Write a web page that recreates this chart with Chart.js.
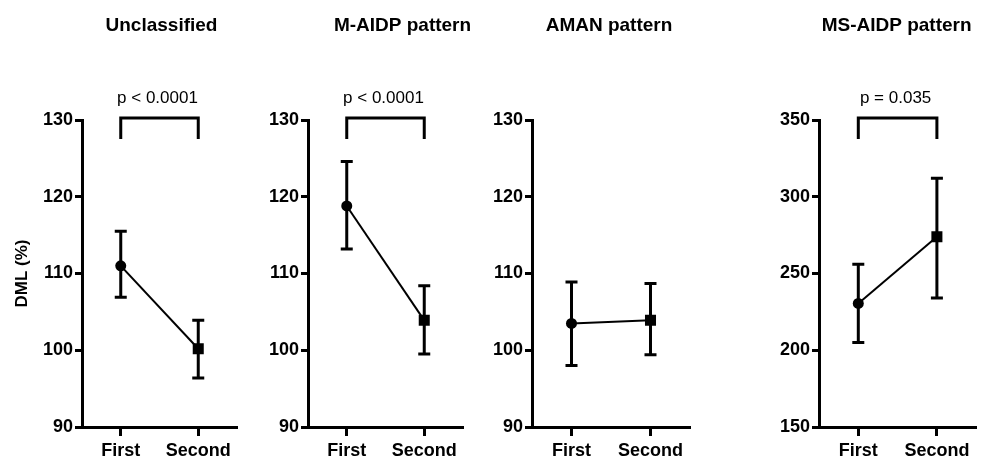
<!DOCTYPE html>
<html>
<head>
<meta charset="utf-8">
<script src="https://cdn.jsdelivr.net/npm/chart.js@4"></script>
<style>
  html, body { margin: 0; padding: 0; background: #fff; }
  body { position: relative; width: 984px; height: 461px; overflow: hidden; }
  canvas { position: absolute; top: 0; }
</style>
</head>
<body>
<canvas id="p1" width="260" height="461" style="left:0px"></canvas>
<canvas id="p2" width="260" height="461" style="left:240px"></canvas>
<canvas id="p3" width="250" height="461" style="left:464px"></canvas>
<canvas id="p4" width="233" height="461" style="left:751px"></canvas>
<script>
const groups = ['First', 'Second'];

const unclassifiedMean = [111.0, 100.2];
const unclassifiedUpper = [115.5, 103.9];
const unclassifiedLower = [106.9, 96.4];

const mAidpMean = [118.8, 103.9];
const mAidpUpper = [124.6, 108.4];
const mAidpLower = [113.2, 99.5];

const amanMean = [103.5, 103.9];
const amanUpper = [108.9, 108.7];
const amanLower = [98.0, 99.4];

const msAidpMean = [230.5, 274.0];
const msAidpUpper = [256.0, 312.0];
const msAidpLower = [205.0, 234.0];

const dmlTicks = [90, 100, 110, 120, 130];
const msTicks = [150, 200, 250, 300, 350];

const FONT = "'Liberation Sans', Arial, sans-serif";

// error bars, panel titles and the p-value brackets
const extras = {
  id: 'extras',
  beforeDatasetsDraw(chart) {
    const ctx = chart.ctx;
    const ds = chart.data.datasets[0];
    const meta = chart.getDatasetMeta(0);
    const y = chart.scales.y;
    ctx.save();
    ctx.strokeStyle = '#000';
    ctx.lineWidth = 3;
    meta.data.forEach((pt, i) => {
      const hi = y.getPixelForValue(ds.upper[i]);
      const lo = y.getPixelForValue(ds.lower[i]);
      ctx.beginPath();
      ctx.moveTo(pt.x, hi);
      ctx.lineTo(pt.x, lo);
      ctx.moveTo(pt.x - 6, hi);
      ctx.lineTo(pt.x + 6, hi);
      ctx.moveTo(pt.x - 6, lo);
      ctx.lineTo(pt.x + 6, lo);
      ctx.stroke();
    });
    ctx.restore();
  },
  afterDraw(chart, args, opts) {
    const ctx = chart.ctx;
    const area = chart.chartArea;
    ctx.save();
    ctx.fillStyle = '#000';
    ctx.font = 'bold 19px ' + FONT;
    ctx.textAlign = 'center';
    ctx.textBaseline = 'alphabetic';
    ctx.fillText(opts.title, (area.left + area.right) / 2 + (opts.shift || 0), 31);

    if (opts.p) {
      const x = chart.scales.x;
      const x1 = x.getPixelForValue(0);
      const x2 = x.getPixelForValue(1);
      const top = area.top - 2;
      ctx.strokeStyle = '#000';
      ctx.lineWidth = 3;
      ctx.beginPath();
      ctx.moveTo(x1, top + 21);
      ctx.lineTo(x1, top);
      ctx.lineTo(x2, top);
      ctx.lineTo(x2, top + 21);
      ctx.stroke();
      ctx.font = '17px ' + FONT;
      ctx.fillText(opts.p, (x1 + x2) / 2 - 2, top - 15);
    }
    ctx.restore();
  }
};

function makePanel(id, cfg) {
  return new Chart(document.getElementById(id), {
    type: 'line',
    data: {
      labels: groups,
      datasets: [{
        data: cfg.mean,
        upper: cfg.upper,
        lower: cfg.lower,
        borderColor: '#000',
        backgroundColor: '#000',
        borderWidth: 2,
        pointStyle: ['circle', 'rect'],
        pointRadius: [5.5, 7.8],
        pointBorderWidth: 0,
        tension: 0
      }]
    },
    options: {
      responsive: false,
      animation: false,
      layout: {
        padding: { top: 120, right: cfg.padRight, bottom: 0, left: 0 }
      },
      plugins: {
        legend: { display: false },
        tooltip: { enabled: false },
        extras: { title: cfg.title, shift: cfg.shift, p: cfg.p }
      },
      scales: {
        x: {
          type: 'category',
          offset: true,
          border: { color: '#000', width: 3 },
          grid: {
            drawOnChartArea: false,
            color: '#000',
            tickLength: 9,
            tickWidth: 3
          },
          ticks: {
            color: '#000',
            padding: 4,
            maxRotation: 0,
            font: { family: FONT, size: 18, weight: 'bold' }
          },
          afterFit(scale) { scale.height = 34; }
        },
        y: {
          min: cfg.ticks[0],
          max: cfg.ticks[cfg.ticks.length - 1],
          border: { color: '#000', width: 3 },
          grid: {
            drawOnChartArea: false,
            color: '#000',
            tickLength: 7,
            tickWidth: 3
          },
          ticks: {
            color: '#000',
            padding: 2,
            font: { family: FONT, size: 18, weight: 'bold' }
          },
          afterBuildTicks(scale) {
            scale.ticks = cfg.ticks.map(v => ({ value: v }));
          },
          title: {
            display: !!cfg.yTitle,
            text: cfg.yTitle,
            color: '#000',
            padding: { top: 12, bottom: 0 },
            font: { family: FONT, size: 17, weight: 'bold' }
          },
          afterFit(scale) { scale.width = cfg.yWidth; }
        }
      }
    },
    plugins: [extras]
  });
}

makePanel('p1', {
  title: 'Unclassified', shift: 2, p: 'p < 0.0001', yTitle: 'DML (%)',
  mean: unclassifiedMean, upper: unclassifiedUpper, lower: unclassifiedLower,
  ticks: dmlTicks, yWidth: 82, padRight: 23
});
makePanel('p2', {
  title: 'M-AIDP pattern', shift: 17, p: 'p < 0.0001',
  mean: mAidpMean, upper: mAidpUpper, lower: mAidpLower,
  ticks: dmlTicks, yWidth: 68, padRight: 37
});
makePanel('p3', {
  title: 'AMAN pattern', shift: -2, p: null,
  mean: amanMean, upper: amanUpper, lower: amanLower,
  ticks: dmlTicks, yWidth: 68, padRight: 24
});
makePanel('p4', {
  title: 'MS-AIDP pattern', shift: -1, p: 'p = 0.035',
  mean: msAidpMean, upper: msAidpUpper, lower: msAidpLower,
  ticks: msTicks, yWidth: 68, padRight: 7
});
</script>
</body>
</html>
